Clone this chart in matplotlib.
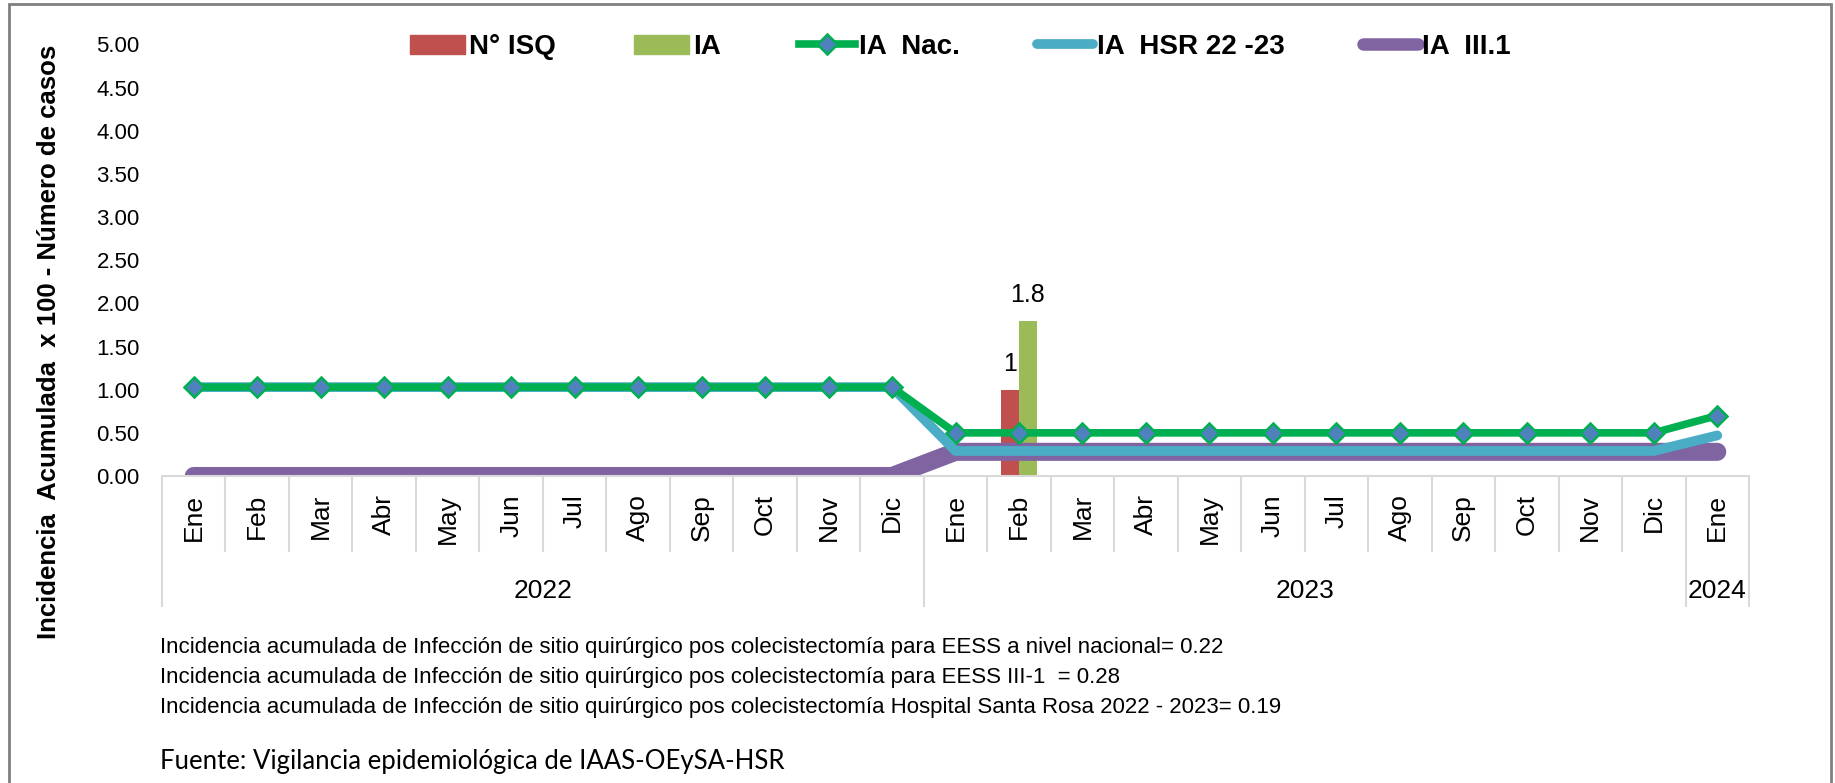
import matplotlib
matplotlib.use('Agg')
import matplotlib.pyplot as plt
import matplotlib.patches as mpatches
from matplotlib.lines import Line2D

months = ['Ene', 'Feb', 'Mar', 'Abr', 'May', 'Jun', 'Jul', 'Ago', 'Sep', 'Oct', 'Nov', 'Dic',
          'Ene', 'Feb', 'Mar', 'Abr', 'May', 'Jun', 'Jul', 'Ago', 'Sep', 'Oct', 'Nov', 'Dic',
          'Ene']
years = ['2022', '2023', '2024']
year_counts = [12, 12, 1]

n_isq = [0, 0, 0, 0, 0, 0, 0, 0, 0, 0, 0, 0,
         0, 1, 0, 0, 0, 0, 0, 0, 0, 0, 0, 0,
         0]
ia = [0, 0, 0, 0, 0, 0, 0, 0, 0, 0, 0, 0,
      0, 1.8, 0, 0, 0, 0, 0, 0, 0, 0, 0, 0,
      0]
ia_nac = [1.03, 1.03, 1.03, 1.03, 1.03, 1.03, 1.03, 1.03, 1.03, 1.03, 1.03, 1.03,
          0.50, 0.50, 0.50, 0.50, 0.50, 0.50, 0.50, 0.50, 0.50, 0.50, 0.50, 0.50,
          0.70]
ia_hsr = [1.03, 1.03, 1.03, 1.03, 1.03, 1.03, 1.03, 1.03, 1.03, 1.03, 1.03, 1.03,
          0.29, 0.29, 0.29, 0.29, 0.29, 0.29, 0.29, 0.29, 0.29, 0.29, 0.29, 0.29,
          0.47]
ia_iii = [0, 0, 0, 0, 0, 0, 0, 0, 0, 0, 0, 0,
          0.28, 0.28, 0.28, 0.28, 0.28, 0.28, 0.28, 0.28, 0.28, 0.28, 0.28, 0.28,
          0.28]

notes = ['Incidencia acumulada de Infección de sitio quirúrgico pos colecistectomía para EESS a nivel nacional= 0.22',
         'Incidencia acumulada de Infección de sitio quirúrgico pos colecistectomía para EESS III-1  = 0.28',
         'Incidencia acumulada de Infección de sitio quirúrgico pos colecistectomía Hospital Santa Rosa 2022 - 2023= 0.19']
fuente = 'Fuente: Vigilancia epidemiológica de IAAS-OEySA-HSR'

plt.rcParams['font.family'] = ['Liberation Sans', 'DejaVu Sans']

W, H = 1835, 783
fig = plt.figure(figsize=(W / 100, H / 100), dpi=100)
ax = fig.add_axes([162 / W, 1 - 476 / H, (1749 - 162) / W, (476 - 44.5) / H])

x = list(range(len(months)))
bw = 0.28
red = '#C0504D'
lgreen = '#9BBB59'

ax.bar([i - bw / 2 for i in x], n_isq, bw, color=red, zorder=1)
ax.bar([i + bw / 2 for i in x], ia, bw, color=lgreen, zorder=1)
for i in x:
    if n_isq[i]:
        ax.annotate(f'{n_isq[i]:g}', (i - bw / 2, n_isq[i]), xytext=(0, 10), textcoords='offset points',
                    ha='center', va='bottom', fontsize=18)
    if ia[i]:
        ax.annotate(f'{ia[i]:g}', (i + bw / 2, ia[i]), xytext=(0, 10), textcoords='offset points',
                    ha='center', va='bottom', fontsize=18)

ax.plot(x, ia_iii, color='#8064A2', lw=13, solid_capstyle='round', solid_joinstyle='round', zorder=2)
ax.plot(x, ia_hsr, color='#4BACC6', lw=7, solid_capstyle='round', solid_joinstyle='round', zorder=3)
ax.plot(x, ia_nac, color='#00B050', lw=5.5, marker='D', ms=10, mfc='#4F81BD', mec='#00B050', mew=1.8,
        zorder=4)

ax.set_xlim(-0.5, len(months) - 0.5)
ax.set_ylim(0, 5)
ax.set_yticks([0, 0.5, 1, 1.5, 2, 2.5, 3, 3.5, 4, 4.5, 5])
ax.set_yticklabels([f'{v:.2f}' for v in ax.get_yticks()], fontsize=16)
ax.tick_params(axis='y', length=0, pad=16)

for s in ['top', 'right', 'left']:
    ax.spines[s].set_visible(False)
ax.spines['bottom'].set_color('#D9D9D9')
ax.spines['bottom'].set_linewidth(1.5)

# category boundaries: long ticks at year edges, shorter between months
edges = [0]
for c in year_counts:
    edges.append(edges[-1] + c)
year_edges = [e - 0.5 for e in edges]
month_edges = [i - 0.5 for i in range(1, len(months)) if i not in edges]
ax.set_xticks(year_edges)
ax.set_xticks(month_edges, minor=True)
ax.set_xticklabels([])
ax.tick_params(axis='x', which='major', length=94, width=1.5, color='#D9D9D9', direction='out')
ax.tick_params(axis='x', which='minor', length=55, width=1.5, color='#D9D9D9', direction='out')

for i, m in zip(x, months):
    ax.annotate(m, (i, 0), xycoords=('data', 'axes fraction'), xytext=(0, -13), textcoords='offset points',
                rotation=90, ha='center', va='top', fontsize=19)
for k, yname in enumerate(years):
    mid = (edges[k] + edges[k + 1] - 1) / 2
    ax.annotate(yname, (mid, 0), xycoords=('data', 'axes fraction'), xytext=(0, -83), textcoords='offset points',
                ha='center', va='center', fontsize=19)

fig.text(49 / W, 1 - 342 / H, 'Incidencia  Acumulada  x 100 - Número de casos', rotation=90,
         ha='center', va='center', fontsize=18.5, fontweight='bold')

handles = [mpatches.Patch(color=red, label='N° ISQ'),
           mpatches.Patch(color=lgreen, label='IA'),
           Line2D([], [], color='#00B050', lw=5.5, marker='D', ms=10, mfc='#4F81BD', mec='#00B050', mew=1.8,
                  label='IA  Nac.'),
           Line2D([], [], color='#4BACC6', lw=7, solid_capstyle='round', label='IA  HSR 22 -23'),
           Line2D([], [], color='#8064A2', lw=9, solid_capstyle='round', label='IA  III.1')]
leg = ax.legend(handles=handles, loc='center', bbox_to_anchor=(0.503, 0.994), ncol=5, frameon=False,
                prop={'weight': 'bold', 'size': 20}, handlelength=2.0,
                handletextpad=0.15, columnspacing=2.8)

for k, t in enumerate(notes):
    fig.text(160 / W, 1 - (647 + 30.5 * k) / H, t, ha='left', va='center', fontsize=16)
fig.text(160 / W, 1 - 761 / H, fuente, ha='left', va='center', fontsize=18.5, family=['Lato', 'DejaVu Sans'])

# outer frame of the chart area
fig.add_artist(mpatches.Rectangle((9 / W, -0.05), (1831 - 9) / W, 1.05 - 4 / H, fill=False,
                                  edgecolor='#808080', lw=2, transform=fig.transFigure))

fig.savefig('out.png', dpi=100)
